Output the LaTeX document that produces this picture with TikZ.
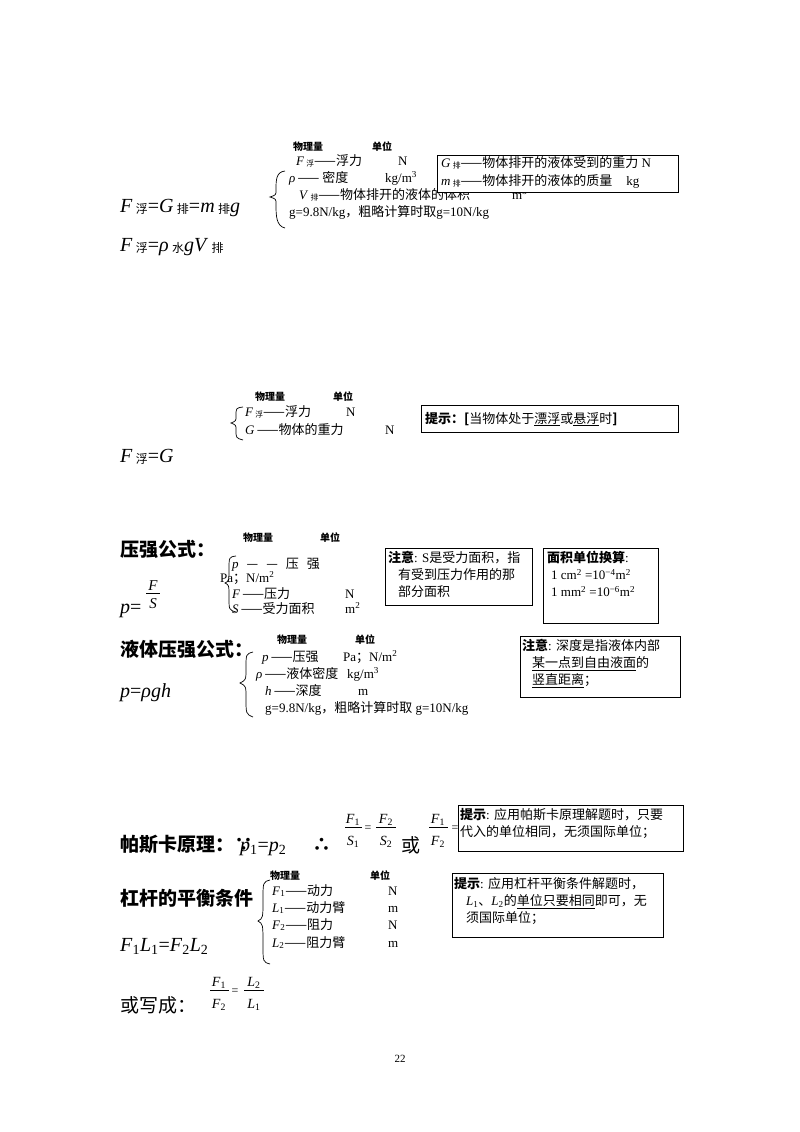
\documentclass[tikz,border=0pt]{standalone}
\usepackage{fontspec}
\setmainfont{Liberation Serif}
\newfontfamily\cjk{Noto Sans CJK SC}
\newcommand{\C}[1]{{\cjk #1}}
\newcommand{\B}[1]{{\cjk\bfseries #1}}
\newcommand{\sub}[1]{\raisebox{-0.2ex}{\scalebox{0.6}{\C{#1}}}}
\begin{document}
\begin{tikzpicture}[x=1pt,y=-1pt,
 t/.style={anchor=base west,inner sep=0pt,font=\fontsize{13}{17}\selectfont},
 hd/.style={anchor=base west,inner sep=0pt,font=\fontsize{10}{11}\selectfont\cjk\bfseries},
 big/.style={anchor=base west,inner sep=0pt,font=\fontsize{20}{22}\selectfont},
 tit/.style={anchor=base west,inner sep=0pt,font=\fontsize{19}{22}\selectfont\cjk\bfseries},
 bx/.style={draw,line width=0.8pt}]
\useasboundingbox (0,0) rectangle (800,1132);
% ---- section 1
\node[hd] (h1a) at (293,150) {物理量};
\node[hd] (h1b) at (372,150) {单位};
\node[t] (l1a) at (296,165) {\textit{F}\,\sub{浮}\C{——浮力}};
\node[t] (u1a) at (398,165) {N};
\node[t] (l1b) at (289,182) {\textit{ρ}\,\C{—— 密度}};
\node[t] (u1b) at (385,182) {kg/m\textsuperscript{3}};
\node[t] (l1c) at (299,199) {\textit{V}\,\sub{排}\C{——物体排开的液体的体积}};
\node[t] (u1c) at (512,199) {m\textsuperscript{3}};
\node[t] (l1d) at (289,216) {g=9.8N/kg\C{，粗略计算时取}g=10N/kg};
\draw[bx,fill=white] (437,155) rectangle (678,192);
\node[t] (r1a) at (441,167) {\textit{G}\,\sub{排}\C{——物体排开的液体受到的重力}\ N};
\node[t] (r1b) at (441,185) {\textit{m}\,\sub{排}\C{——物体排开的液体的质量}\hspace{14pt}kg};
\draw[line width=0.7pt] (285,171) .. controls (276,172) and (276,180) .. (276,190) .. controls (276,195) .. (270,197) .. controls (276,199) .. (276,204) .. controls (276,215) and (276,226) .. (285,228);
\node[big] (f1) at (120,212) {\textit{F}\,\sub{浮}=\textit{G}\,\sub{排}=\textit{m}\,\sub{排}\textit{g}};
\node[big] (f2) at (120,251) {\textit{F}\,\sub{浮}=\textit{ρ}\,\sub{水}\textit{gV}\,\sub{排}};
% ---- section 2
\node[hd] (h2a) at (255,400) {物理量};
\node[hd] (h2b) at (333,400) {单位};
\node[t] (l2a) at (245,416) {\textit{F}\,\sub{浮}\C{——浮力}};
\node[t] (u2a) at (346,416) {N};
\node[t] (l2b) at (245,434) {\textit{G}\,\C{——物体的重力}};
\node[t] (u2b) at (385,434) {N};
\draw[line width=0.7pt] (243,407) .. controls (236,408) .. (236,416) .. controls (236,421) .. (231,423) .. controls (236,425) .. (236,430) .. controls (236,438) .. (243,440);
\draw[bx] (421,405) rectangle (678,432);
\node[t] (n2) at (425,423) {\B{提示：[}\C{当物体处于\underline{漂浮}或\underline{悬浮}时}\B{]}};
\node[big] (f3) at (120,462) {\textit{F}\,\sub{浮}=\textit{G}};
% ---- section 3
\node[tit] (t3) at (120,556) {压强公式：};
\node[hd] (h3a) at (243,541) {物理量};
\node[hd] (h3b) at (320,541) {单位};
\node[t] (l3a) at (232,568) {\textit{p}\hspace{8pt}\C{—\hspace{8pt}—\hspace{8pt}压\hspace{8pt}强}};
\node[t] (l3b) at (220,582) {Pa\C{；}N/m\textsuperscript{2}};
\node[t] (l3c) at (232,598) {\textit{F}\,\C{——压力}};
\node[t] (u3c) at (345,598) {N};
\node[t] (l3d) at (232,613) {\textit{S}\,\C{——受力面积}};
\node[t] (u3d) at (345,613) {m\textsuperscript{2}};
\draw[line width=0.7pt] (236,556) .. controls (229,557) .. (229,570) .. controls (229,581) .. (225,583) .. controls (229,585) .. (229,597) .. controls (229,610) .. (236,612);
\node[big] (f4) at (120,613) {\textit{p}=};
\node[anchor=base,inner sep=0pt,font=\fontsize{15}{16}\selectfont] (fs) at (153,590) {\textit{F}};
\draw[line width=0.6pt] (146,593) -- (160,593);
\node[anchor=base,inner sep=0pt,font=\fontsize{15}{16}\selectfont] (fs2) at (153,608) {\textit{S}};
\draw[bx] (385,548) rectangle (532,605);
\node[t,align=left,anchor=north west] (n3) at (388,551) {\B{注意}: S\C{是受力面积，指}\\\hspace{10pt}\C{有受到压力作用的那}\\\hspace{10pt}\C{部分面积}};
\draw[bx] (543,548) rectangle (658,623);
\node[t,align=left,anchor=north west] (n4) at (547,551) {\B{面积单位换算}:\\\hspace{4pt}1 cm\textsuperscript{2} =10\textsuperscript{−4}m\textsuperscript{2}\\\hspace{4pt}1 mm\textsuperscript{2} =10\textsuperscript{−6}m\textsuperscript{2}};
% ---- liquid pressure
\node[tit] (t4) at (120,656) {液体压强公式：};
\node[hd] (h4a) at (277,643) {物理量};
\node[hd] (h4b) at (355,643) {单位};
\node[t] (l4a) at (262,661) {\textit{p}\,\C{——压强}};
\node[t] (u4a) at (343,661) {Pa\C{；}N/m\textsuperscript{2}};
\node[t] (l4b) at (256,678) {\textit{ρ}\,\C{——液体密度}};
\node[t] (u4b) at (347,678) {kg/m\textsuperscript{3}};
\node[t] (l4c) at (265,695) {\textit{h}\,\C{——深度}};
\node[t] (u4c) at (358,695) {m};
\node[t] (l4d) at (265,712) {g=9.8N/kg\C{，粗略计算时取} g=10N/kg};
\draw[line width=0.7pt] (253,652) .. controls (246,654) .. (246,668) .. controls (246,680) .. (240,683) .. controls (246,686) .. (246,698) .. controls (246,714) .. (253,717);
\node[big] (f5) at (120,697) {\textit{p}=\textit{ρgh}};
\draw[bx] (520,636) rectangle (680,697);
\node[t,align=left,anchor=north west] (n5) at (522,639) {\B{注意}: \C{深度是指液体内部}\\\hspace{10pt}\C{\underline{某一点到自由液面}的}\\\hspace{10pt}\C{\underline{竖直距离}；}};
% ---- Pascal
\node[tit] (t5) at (120,851) {帕斯卡原理：∵};
\node[big] (f6) at (240,851) {\textit{p}\textsubscript{1}=\textit{p}\textsubscript{2}};
\node[tit] (t5b) at (312,851) {∴};
\node[anchor=base,inner sep=0pt,font=\fontsize{14}{15}\selectfont] (p1) at (353,823) {\textit{F}\textsubscript{1}};
\node[anchor=base,inner sep=0pt,font=\fontsize{14}{15}\selectfont] (p2) at (353,845) {\textit{S}\textsubscript{1}};
\draw[line width=0.6pt] (345,827) -- (362,827);
\node[anchor=base,inner sep=0pt,font=\fontsize{12}{14}\selectfont] (pe) at (368,831) {=};
\node[anchor=base,inner sep=0pt,font=\fontsize{14}{15}\selectfont] (p3) at (386,823) {\textit{F}\textsubscript{2}};
\node[anchor=base,inner sep=0pt,font=\fontsize{14}{15}\selectfont] (p4) at (386,845) {\textit{S}\textsubscript{2}};
\draw[line width=0.6pt] (376,827) -- (396,827);
\node[anchor=base west,inner sep=0pt,font=\fontsize{19}{20}\selectfont\cjk] (or1) at (401,852) {或};
\node[anchor=base,inner sep=0pt,font=\fontsize{14}{15}\selectfont] (p5) at (438,823) {\textit{F}\textsubscript{1}};
\node[anchor=base,inner sep=0pt,font=\fontsize{14}{15}\selectfont] (p6) at (438,845) {\textit{F}\textsubscript{2}};
\draw[line width=0.6pt] (429,827) -- (448,827);
\node[anchor=base,inner sep=0pt,font=\fontsize{12}{14}\selectfont] (pe2) at (455,831) {=};
\draw[bx,fill=white] (458,805) rectangle (683,851);
\node[t,align=left,anchor=north west] (n6) at (460,808) {\B{提示}: \C{应用帕斯卡原理解题时，只要}\\\C{代入的单位相同，无须国际单位；}};
% ---- lever
\node[tit] (t6) at (120,905) {杠杆的平衡条件};
\node[hd] (h6a) at (270,879) {物理量};
\node[hd] (h6b) at (370,879) {单位};
\node[t] (l6a) at (272,895) {\textit{F}\textsubscript{1}\C{——动力}};
\node[t] (u6a) at (388,895) {N};
\node[t] (l6b) at (272,912) {\textit{L}\textsubscript{1}\C{——动力臂}};
\node[t] (u6b) at (388,912) {m};
\node[t] (l6c) at (272,929) {\textit{F}\textsubscript{2}\C{——阻力}};
\node[t] (u6c) at (388,929) {N};
\node[t] (l6d) at (272,947) {\textit{L}\textsubscript{2}\C{——阻力臂}};
\node[t] (u6d) at (388,947) {m};
\draw[line width=0.7pt] (270,880) .. controls (263,882) .. (263,900) .. controls (263,918) .. (258,921) .. controls (263,924) .. (263,945) .. controls (263,962) .. (270,964);
\node[big] (f7) at (120,951) {\textit{F}\textsubscript{1}\textit{L}\textsubscript{1}=\textit{F}\textsubscript{2}\textit{L}\textsubscript{2}};
\draw[bx] (452,873) rectangle (663,937);
\node[t,align=left,anchor=north west] (n7) at (454,877) {\B{提示}: \C{应用杠杆平衡条件解题时，}\\\hspace{12pt}\textit{L}\textsubscript{1}\C{、}\textit{L}\textsubscript{2}\C{的\underline{单位只要相同}即可，无}\\\hspace{12pt}\C{须国际单位；}};
\node[anchor=base west,inner sep=0pt,font=\fontsize{19}{20}\selectfont\cjk] (t7) at (120,1012) {或写成：};
\node[anchor=base,inner sep=0pt,font=\fontsize{14}{15}\selectfont] (q1) at (219,986) {\textit{F}\textsubscript{1}};
\node[anchor=base,inner sep=0pt,font=\fontsize{14}{15}\selectfont] (q2) at (219,1008) {\textit{F}\textsubscript{2}};
\draw[line width=0.6pt] (210,990) -- (229,990);
\node[anchor=base,inner sep=0pt,font=\fontsize{12}{14}\selectfont] (qe) at (235,994) {=};
\node[anchor=base,inner sep=0pt,font=\fontsize{14}{15}\selectfont] (q3) at (254,986) {\textit{L}\textsubscript{2}};
\node[anchor=base,inner sep=0pt,font=\fontsize{14}{15}\selectfont] (q4) at (254,1008) {\textit{L}\textsubscript{1}};
\draw[line width=0.6pt] (244,990) -- (264,990);
\node[anchor=base,inner sep=0pt,font=\fontsize{11}{12}\selectfont] (pg) at (400,1062) {22};
\end{tikzpicture}
\end{document}
